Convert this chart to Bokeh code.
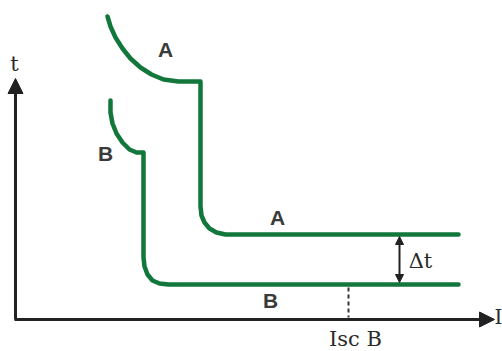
from bokeh.plotting import figure
from bokeh.models import Range1d, Arrow, NormalHead, ColumnDataSource
from bokeh.core.properties import value
from bokeh.embed import file_html
from bokeh.resources import INLINE

# Curve A (slow breaker) - x: current (px-like units), y: time (top = long)
a_x = [107, 110, 115, 122, 130, 140, 151, 163, 178, 200, 200, 201, 204, 209, 216, 225, 234, 458]
a_y = [16, 26, 37, 48, 58, 67, 74, 79, 81, 81, 206, 215, 222, 228, 232, 234, 234, 234]
# Curve B (fast breaker)
b_x = [110, 110, 112, 116, 122, 129, 136, 143, 143, 144, 147, 152, 159, 168, 458]
b_y = [100, 112, 123, 133, 142, 149, 152, 152, 257, 266, 274, 280, 283, 284, 284]

# axes
origin = (15, 319)
t_axis_top = 78
i_axis_end = 494
isc_b = 348
dt_x = 399

# labels
lab_text = ["A", "B", "A", "B"]
lab_x = [165, 105, 277, 270]
lab_y = [48.5, 152.5, 216.5, 299.5]
serif_text = ["t", "Δt", "Isc B"]
serif_x = [14, 420, 355]
serif_y = [63, 260.5, 338]
axis_i_text = ["I"]
axis_i_x = [494]
axis_i_y = [316]

GREEN = "#12773a"
DARK = "#222222"

p = figure(width=502, height=351, output_backend="svg", toolbar_location=None,
           x_range=Range1d(0, 502), y_range=Range1d(351, 0),
           min_border=0, background_fill_color="white", border_fill_color="white")
p.axis.visible = False
p.grid.visible = False
p.outline_line_color = None

p.line(a_x, a_y, line_color=GREEN, line_width=4.5, line_join="round", line_cap="round")
p.line(b_x, b_y, line_color=GREEN, line_width=4.5, line_join="round", line_cap="round")

# axes arrows
p.add_layout(Arrow(end=NormalHead(size=15, fill_color=DARK, line_color=DARK),
                   x_start=origin[0], y_start=origin[1], x_end=origin[0], y_end=t_axis_top,
                   line_color=DARK, line_width=3))
p.add_layout(Arrow(end=NormalHead(size=15, fill_color=DARK, line_color=DARK),
                   x_start=origin[0] - 1, y_start=origin[1], x_end=i_axis_end, y_end=origin[1],
                   line_color=DARK, line_width=3))

# Isc B dashed marker
p.line([isc_b, isc_b], [b_y[-1] + 3, origin[1] - 2], line_color="#333333", line_width=2, line_dash="4 3")

# delta-t double arrow
p.add_layout(Arrow(start=NormalHead(size=8, fill_color=DARK, line_color=DARK),
                   end=NormalHead(size=8, fill_color=DARK, line_color=DARK),
                   x_start=dt_x, y_start=a_y[-1] + 2, x_end=dt_x, y_end=b_y[-1] - 2,
                   line_color=DARK, line_width=2))

src1 = ColumnDataSource(dict(x=lab_x, y=lab_y, t=lab_text))
p.text(x="x", y="y", text="t", source=src1, text_font=value("Liberation Sans"),
       text_font_style="bold", text_font_size="21px", text_color="#3a3a3a",
       text_align="center", text_baseline="middle")

src2 = ColumnDataSource(dict(x=serif_x, y=serif_y, t=serif_text))
p.text(x="x", y="y", text="t", source=src2, text_font=value("DejaVu Serif"),
       text_font_size="21px", text_color="#2a2a2a",
       text_align="center", text_baseline="middle")

p.text(x=axis_i_x, y=axis_i_y, text=axis_i_text, text_font=value("DejaVu Serif"),
       text_font_size="20px", text_color="#2a2a2a",
       text_align="left", text_baseline="middle")

open("out.html", "w").write(file_html(p, INLINE))
